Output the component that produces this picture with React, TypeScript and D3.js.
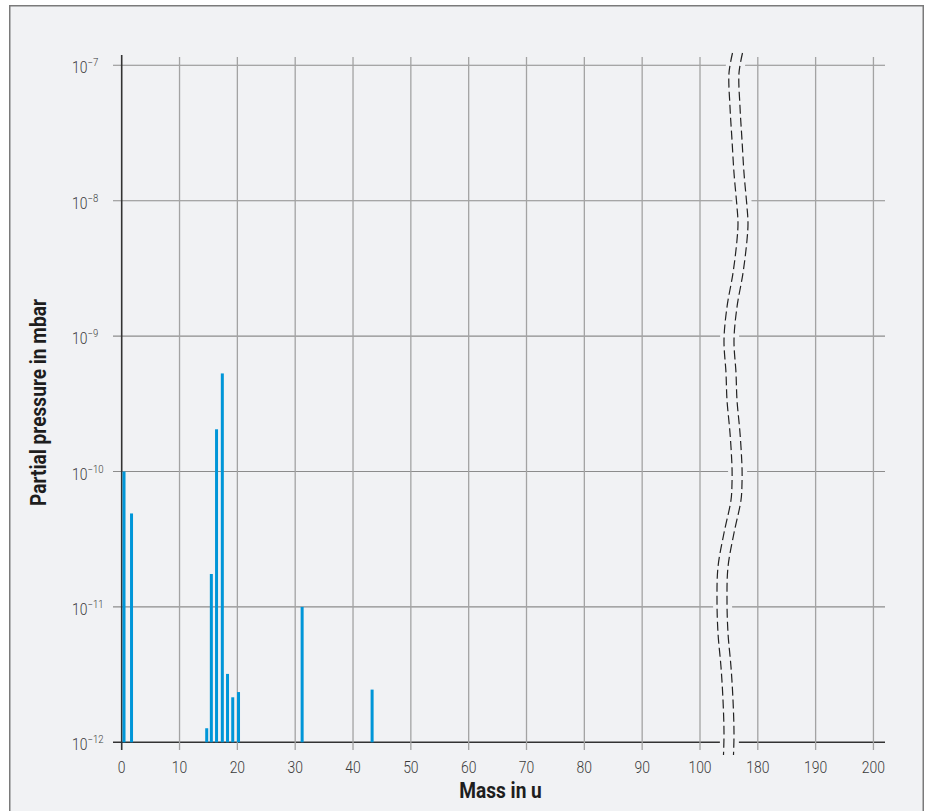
import React from 'react';
import * as d3 from 'd3';

// masses (u) and partial pressures (mbar)
const masses = [0.4, 1.7, 14.7, 15.5, 16.4, 17.4, 18.3, 19.2, 20.2, 31.2, 43.3];
const pressures = [1.0e-10, 4.9e-11, 1.27e-12, 1.75e-11, 2.05e-10, 5.3e-10, 3.2e-12, 2.15e-12, 2.35e-12, 1.0e-11, 2.45e-12];

const xTicks = [0, 10, 20, 30, 40, 50, 60, 70, 80, 90, 100, 180, 190, 200];
const yExponents = [-7, -8, -9, -10, -11, -12];

// axis break wave (left dashed line), [y, x] in pixels
const breakPoints: [number, number][] = [
  [53, 732.5], [73, 729], [107, 730], [140, 732], [173, 734], [207, 737], [223, 738],
  [240, 737], [273, 733], [307, 727], [340, 724], [373, 726], [400, 727], [433, 730],
  [467, 732], [483, 732], [500, 731], [533, 724], [567, 718], [600, 717], [633, 718],
  [667, 721], [700, 723], [733, 724], [755, 723.5],
];

const W = 928;
const H = 811;
const BG = '#f1f2f4';
const FONT = 'Roboto, "Noto Sans", sans-serif';
const SQ = 0.87; // condensed look

const x = d3.scaleLinear().domain([0, 100, 180, 202]).range([121.7, 700, 757.8, 885]);
const y = d3.scaleLog().domain([1e-12, 1e-7]).range([742.3, 65.3]);

const gridTop = 55;
const gridBottom = 750;
const gridLeft = 113;
const gridRight = 885;

export default function App() {
  const line = d3.line<[number, number]>()
    .x(d => d[1])
    .y(d => d[0])
    .curve(d3.curveCatmullRom);

  const leftPath = line(breakPoints) || '';
  const rightPath = line(breakPoints.map(p => [p[0], p[1] + 10] as [number, number])) || '';
  const bandPath = line(breakPoints.map(p => [p[0], p[1] + 5.5] as [number, number])) || '';

  const base = y(1e-12);

  return (
    <svg width={W} height={H} style={{ position: 'absolute', left: 0, top: 0 }}>
      <rect x={9.75} y={5.75} width={913.5} height={820} fill={BG} stroke="#7a7a7a" strokeWidth={1.5} />

      {/* grid */}
      {yExponents.map(e => (
        <line key={'h' + e} x1={gridLeft} x2={gridRight} y1={y(Math.pow(10, e))} y2={y(Math.pow(10, e))}
          stroke={e === -12 ? '#333' : '#8c8c8c'} strokeWidth={e === -12 ? 1.6 : 1.1} />
      ))}
      {xTicks.map(t => (
        <line key={'v' + t} x1={x(t)} x2={x(t)} y1={t === 0 ? gridTop : gridTop + 2} y2={gridBottom}
          stroke={t === 0 ? '#333' : '#a3a3a3'} strokeWidth={t === 0 ? 1.6 : 1.3} />
      ))}

      {/* bars */}
      {masses.map((m, i) => (
        <rect key={'b' + i} x={x(m) - 1.5} width={3} y={y(pressures[i])} height={base - y(pressures[i])} fill="#0096d8" />
      ))}

      {/* axis break */}
      <path d={bandPath} fill="none" stroke={BG} strokeWidth={19} />
      <path d={leftPath} fill="none" stroke="#222" strokeWidth={1.2} strokeDasharray="9,4" />
      <path d={rightPath} fill="none" stroke="#222" strokeWidth={1.2} strokeDasharray="9,4" />

      {/* x tick labels */}
      {xTicks.map(t => (
        <text key={'xl' + t} transform={`translate(${x(t)},773) scale(${SQ},1)`} textAnchor="middle"
          fontFamily={FONT} fontWeight={300} fontSize={16} fill="#3a3a3a">{t}</text>
      ))}

      {/* y tick labels */}
      {yExponents.map(e => (
        <text key={'yl' + e} transform={`translate(72,${y(Math.pow(10, e)) + 8}) scale(${SQ},1)`}
          fontFamily={FONT} fontWeight={300} fontSize={16} fill="#3a3a3a">
          10<tspan fontSize={11} dy={-7}>{'\u2212' + Math.abs(e)}</tspan>
        </text>
      ))}

      {/* axis titles */}
      <text transform={`translate(500.5,798) scale(${SQ},1)`} textAnchor="middle"
        fontFamily={FONT} fontWeight={700} fontSize={22} fill="#1e1e1e">Mass in u</text>
      <text transform={`translate(46,402.5) rotate(-90) scale(${SQ},1)`} textAnchor="middle"
        fontFamily={FONT} fontWeight={700} fontSize={22} fill="#1e1e1e">Partial pressure in mbar</text>
    </svg>
  );
}
